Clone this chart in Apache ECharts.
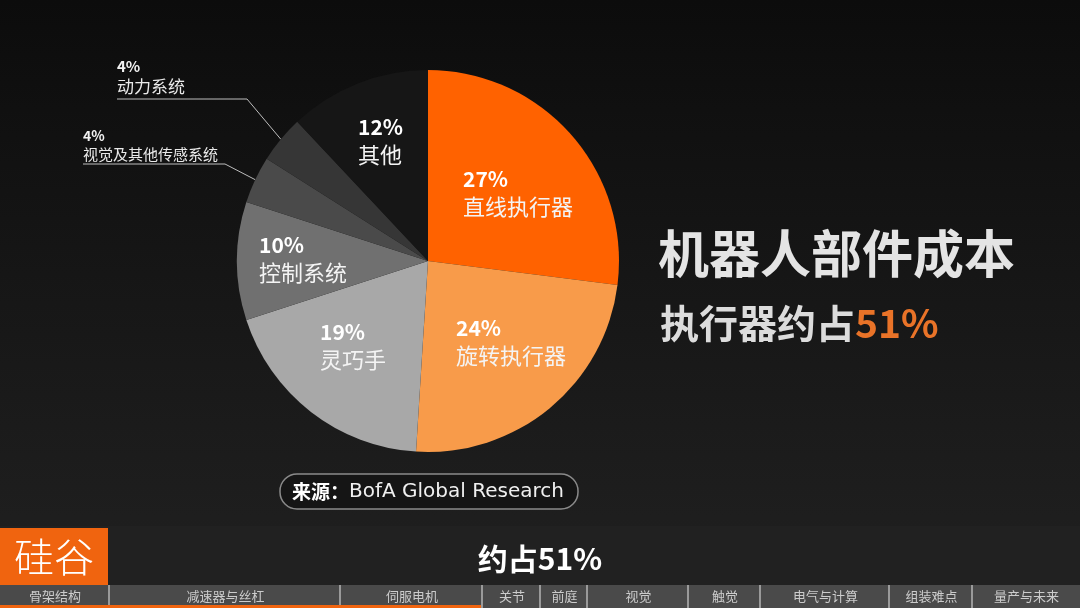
<!DOCTYPE html>
<html><head><meta charset="utf-8">
<script src="https://cdn.jsdelivr.net/npm/echarts@6/dist/echarts.min.js"></script>
<style>html,body{margin:0;padding:0;background:#111;}#c{width:1080px;height:608px;}</style>
</head><body><div id="c"></div>
<script>
// ---- data ----
const categories = ['直线执行器','旋转执行器','灵巧手','控制系统','视觉及其他传感系统','动力系统','其他'];
const values = [27, 24, 19, 10, 4, 4, 12];
const sliceColors = ['#FF6200','#F89B4A','#A8A8A8','#707070','#4A4A4A','#363636','#161616'];
const navItems = ['骨架结构','减速器与丝杠','伺服电机','关节','前庭','视觉','触觉','电气与计算','组装难点','量产与未来'];
const titleText = '机器人部件成本';
const subtitleText = '执行器约占';
const subtitleValue = '51%';
const sourceText = 'BofA Global Research';

// ---- layout (positions only) ----
const CX = 428, CY = 261, R = 191;
// top-left anchor of each label block
const labelAnchor = [[463,166],[456,315],[320,319],[259,232],[83,127],[117,56],[358,114]];
// elbow/end of leader lines for the outside labels
const leaderElbow = {4:[[225,164],[83,164]], 5:[[247,99],[117,99]]};
const navEdges = [0,110,341,483,541,588,689,761,890,973,1080];

const chart = echarts.init(document.getElementById('c'), null, {renderer:'canvas'});

const data = categories.map((n,i)=>{
  const outside = (i===4 || i===5);
  const item = {name:n, value:values[i], itemStyle:{color:sliceColors[i]}};
  if (outside) {
    item.label = {position:'outside', formatter:'{p|{c}%}\n{n|{b}}',
      rich:{p:{fontSize: i===5?15:14, fontWeight:'bold', color:'#f2f2f2', lineHeight:i===5?20:18, fontFamily:'Noto Sans CJK SC'},
            n:{fontSize: i===5?17:15, color:'#eaeaea', lineHeight:i===5?22:19, fontFamily:'Noto Sans CJK SC'}}};
    item.labelLine = {show:true, length:20, length2:20, lineStyle:{color:'#bdbdbd', width:1}};
  }
  return item;
});

function edgePoint(idx){
  const total = values.reduce((a,b)=>a+b,0);
  let cum = 0; for (let k=0;k<idx;k++) cum += values[k];
  const mid = (cum + values[idx]/2)/total;
  const ang = (90 - mid*360) * Math.PI/180;
  return [CX + R*Math.cos(ang), CY - R*Math.sin(ang)];
}

const graphics = [];
// bottom strip
graphics.push({type:'rect', shape:{x:0,y:526,width:1080,height:60}, style:{fill:'#212121'}, z:-1});
// logo
graphics.push({type:'rect', shape:{x:0,y:528,width:108,height:57}, style:{fill:'#F0640F'}});
graphics.push({type:'text', x:54, y:557, style:{text:'硅谷', fontSize:40, fontWeight:300, fill:'#fff', align:'center', verticalAlign:'middle', fontFamily:'Noto Sans CJK SC'}});
// bottom caption
graphics.push({type:'text', x:540, y:559, style:{text:'约占51%', fontSize:30, fontWeight:'bold', fill:'#fff', align:'center', verticalAlign:'middle', fontFamily:'Noto Sans CJK SC'}});
// nav bar
for (let i=0;i<navItems.length;i++){
  const x0 = navEdges[i], x1 = navEdges[i+1];
  graphics.push({type:'rect', shape:{x:x0,y:585,width:x1-x0,height:23}, style:{fill:'#4a4a4a'}});
  if (i>0) graphics.push({type:'rect', shape:{x:x0-2,y:585,width:2,height:23}, style:{fill:'#9a9a9a'}});
  graphics.push({type:'text', x:(x0+x1)/2, y:596, style:{text:navItems[i], fontSize:13, fill:'#cccccc', align:'center', verticalAlign:'middle', fontFamily:'Noto Sans CJK SC'}});
}
graphics.push({type:'rect', shape:{x:0,y:605,width:481,height:3}, style:{fill:'#F0640F'}});
// source box
graphics.push({type:'rect', shape:{x:280,y:474,width:298,height:35,r:17}, style:{fill:'#151515', stroke:'#8a8a8a', lineWidth:1.5}});
graphics.push({type:'text', x:292, y:492, style:{text:'{b|来源：}{t|'+sourceText+'}', verticalAlign:'middle',
  rich:{b:{fontSize:19, fontWeight:'bold', fill:'#fff', fontFamily:'Noto Sans CJK SC'}, t:{fontSize:20, fill:'#f0f0f0', fontFamily:'DejaVu Sans'}}}});
// titles
graphics.push({type:'text', x:658, y:254, style:{text:titleText, fontSize:51, fontWeight:'bold', verticalAlign:'middle', fontFamily:'Noto Sans CJK SC',
  fill:'#e4e4e4', shadowBlur:6, shadowColor:'rgba(0,0,0,0.8)', shadowOffsetY:3}});
graphics.push({type:'text', x:660, y:323, style:{text:'{a|'+subtitleText+'}{b|'+subtitleValue+'}', verticalAlign:'middle',
  rich:{a:{fontSize:39, fontWeight:'bold', fontFamily:'Noto Sans CJK SC', fill:'#dcdcdc'},
        b:{fontSize:39, fontWeight:'bold', fontFamily:'Noto Sans CJK SC', fill:'#E97328'}}}});

chart.setOption({
  backgroundColor: new echarts.graphic.LinearGradient(0,0,0,1,[{offset:0,color:'#0c0c0c'},{offset:0.45,color:'#161616'},{offset:0.85,color:'#1e1e1e'},{offset:1,color:'#202020'}]),
  animation:false,
  graphic: graphics,
  series:[{
    type:'pie', center:[CX,CY], radius:R, startAngle:90, clockwise:true,
    avoidLabelOverlap:false,
    label:{show:true, position:'inside', formatter:'{p|{c}%}\n{n|{b}}', color:'#fff',
      rich:{p:{fontSize:21, fontWeight:'bold', color:'#ffffff', lineHeight:27, fontFamily:'Noto Sans CJK SC'},
            n:{fontSize:22, color:'#f4f4f4', lineHeight:27, fontFamily:'Noto Sans CJK SC'}}},
    labelLine:{show:false},
    labelLayout: function(p){
      const i = p.dataIndex;
      const a = labelAnchor[i];
      const out = {x:a[0], y:a[1], align:'left', verticalAlign:'top'};
      if (leaderElbow[i]) {
        const e = (p.labelLinePoints && p.labelLinePoints[0]) ? p.labelLinePoints[0] : edgePoint(i);
        out.labelLinePoints = [e, leaderElbow[i][0], leaderElbow[i][1]];
      }
      return out;
    },
    data: data
  }]
});
</script></body></html>
